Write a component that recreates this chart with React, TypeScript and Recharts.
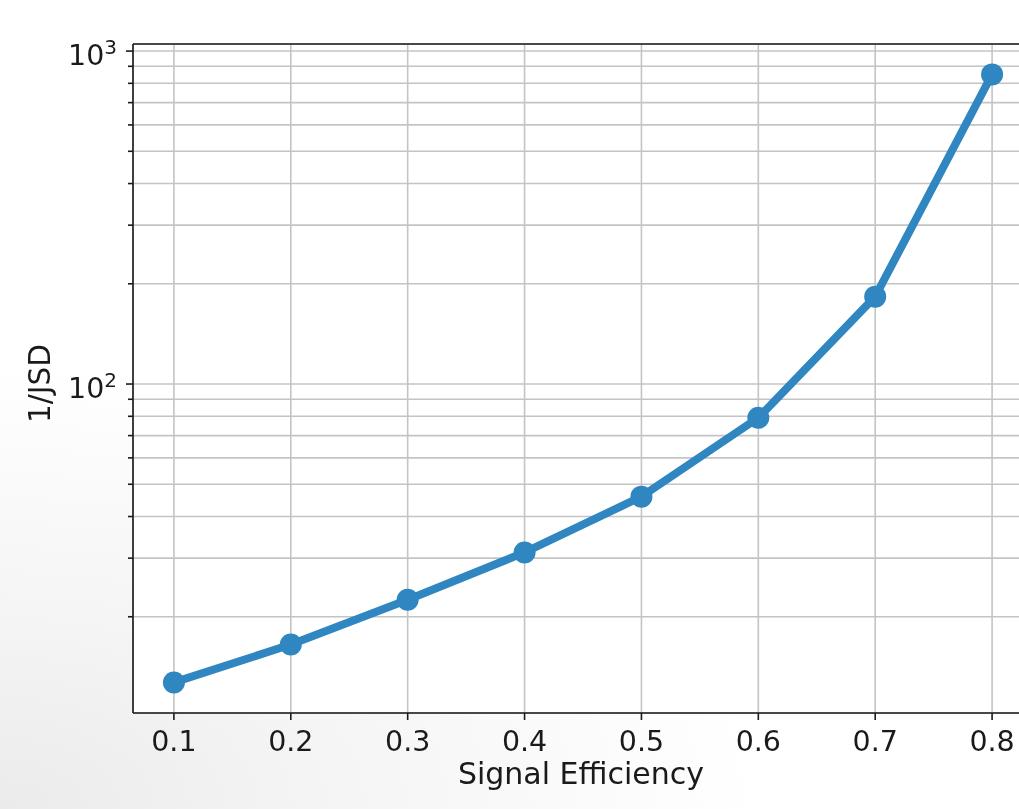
import {
  CartesianGrid,
  Line,
  LineChart,
  ReferenceLine,
  XAxis,
  YAxis,
} from "recharts";

const efficiencies = [0.1, 0.2, 0.3, 0.4, 0.5, 0.6, 0.7, 0.8];
const inverseJsd = [12.7, 16.5, 22.5, 31.2, 45.9, 79.2, 183, 851];

const xTicks = [0.1, 0.2, 0.3, 0.4, 0.5, 0.6, 0.7, 0.8];
const yMajorTicks = [100, 1000];
const yMinorTicks = [20, 30, 40, 50, 60, 70, 80, 90, 200, 300, 400, 500, 600, 700, 800, 900];

const xDomain: [number, number] = [0.065, 0.835];
const yDomain: [number, number] = [10.28, 1050];

const data = efficiencies.map((eff, i) => ({ eff, jsd: inverseJsd[i] }));
const yTicks = [...yMinorTicks, ...yMajorTicks].sort((a, b) => a - b);

const FONT = "DejaVu Sans, Verdana, sans-serif";
const INK = "#1a1a1a";
const LINE_COLOR = "#2f86c0";

function XTick({ x, y, payload }: { x?: number; y?: number; payload?: { value: number } }) {
  if (x == null || y == null || !payload) return null;
  return (
    <g>
      <line x1={x} x2={x} y1={y} y2={y + 7} stroke={INK} strokeWidth={1.6} />
      <text x={x} y={y + 38} textAnchor="middle" fontSize={28.5} fontFamily={FONT} fill={INK}>
        {payload.value.toFixed(1)}
      </text>
    </g>
  );
}

function YTick({ x, y, payload }: { x?: number; y?: number; payload?: { value: number } }) {
  if (x == null || y == null || !payload) return null;
  const major = yMajorTicks.includes(payload.value);
  const exponent = Math.round(Math.log10(payload.value));
  return (
    <g>
      <line x1={x - (major ? 7 : 5)} x2={x} y1={y} y2={y} stroke={INK} strokeWidth={1.6} />
      {major && (
        <text x={x - 16} y={y + 13.5} textAnchor="end" fontSize={28.5} fontFamily={FONT} fill={INK}>
          10
          <tspan fontSize={20} dy={-11}>
            {exponent}
          </tspan>
        </text>
      )}
    </g>
  );
}

function XLabel({ viewBox }: { viewBox?: { x: number; y: number; width: number } }) {
  if (!viewBox) return null;
  return (
    <text
      x={viewBox.x + viewBox.width / 2 - 2}
      y={viewBox.y + 71}
      textAnchor="middle"
      fontSize={30}
      fontFamily={FONT}
      fill={INK}
    >
      Signal Efficiency
    </text>
  );
}

function YLabel({ viewBox }: { viewBox?: { x: number; y: number; height: number } }) {
  if (!viewBox) return null;
  const cx = 50;
  const cy = viewBox.y + viewBox.height / 2 + 5;
  return (
    <text
      x={cx}
      y={cy}
      transform={`rotate(-90, ${cx}, ${cy})`}
      textAnchor="middle"
      fontSize={29.5}
      fontFamily={FONT}
      fill={INK}
    >
      1/JSD
    </text>
  );
}

export default function App() {
  return (
    <div
      style={{
        position: "fixed",
        left: 0,
        top: 0,
        width: 1019,
        height: 809,
        overflow: "hidden",
        background:
          "radial-gradient(ellipse 75% 55% at 0% 100%, #ebebeb 0%, #f5f5f5 45%, #ffffff 100%)",
      }}
    >
      <LineChart
        width={1040}
        height={809}
        data={data}
        margin={{ top: 44, right: 7, bottom: 0, left: 0 }}
      >
        <CartesianGrid stroke="#c4c4c4" strokeWidth={1.6} fill="#ffffff" fillOpacity={1} />
        <XAxis
          dataKey="eff"
          type="number"
          domain={xDomain}
          ticks={xTicks}
          allowDataOverflow
          height={96}
          tickSize={0}
          tickMargin={0}
          tickLine={false}
          axisLine={{ stroke: INK, strokeWidth: 1.6 }}
          tick={<XTick />}
          label={<XLabel />}
        />
        <YAxis
          dataKey="jsd"
          type="number"
          scale="log"
          domain={yDomain}
          ticks={yTicks}
          allowDataOverflow
          width={133}
          tickSize={0}
          tickMargin={0}
          tickLine={false}
          axisLine={{ stroke: INK, strokeWidth: 1.6 }}
          tick={<YTick />}
          interval={0}
          label={<YLabel />}
        />
        <ReferenceLine y={yDomain[1]} stroke={INK} strokeWidth={1.6} />
        <ReferenceLine x={xDomain[1]} stroke={INK} strokeWidth={1.6} />
        <Line
          dataKey="jsd"
          stroke={LINE_COLOR}
          strokeWidth={8}
          dot={{ r: 11, fill: LINE_COLOR, stroke: LINE_COLOR, strokeWidth: 0 }}
          activeDot={false}
          isAnimationActive={false}
        />
      </LineChart>
    </div>
  );
}
